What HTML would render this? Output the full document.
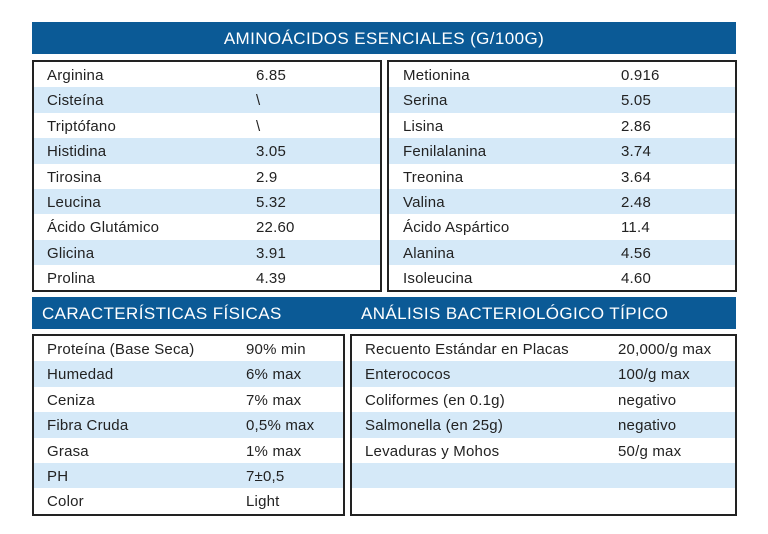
<!DOCTYPE html>
<html><head><meta charset="utf-8"><style>
*{margin:0;padding:0;box-sizing:border-box}
body{width:768px;height:534px;background:#fff;position:relative;font-family:"Liberation Sans",sans-serif;color:#222;overflow:hidden}
.bar{position:absolute;background:#0b5a96;color:#fff;font-size:17px;letter-spacing:0.4px}
.box{position:absolute;border:2px solid #222}
.row{height:25.4px;position:relative;font-size:15px;line-height:27px;letter-spacing:0.2px}
.row:nth-child(even){background:#d5e9f8}
.row span{position:absolute}
</style></head><body>
<div class="bar" style="left:32px;top:22px;width:704px;height:32px;line-height:34px;text-align:center">AMINOÁCIDOS ESENCIALES (G/100G)</div>

<div class="box" style="left:32px;top:60px;width:350px;height:232px">
<div class="row"><span style="left:13px">Arginina</span><span style="left:222px">6.85</span></div>
<div class="row"><span style="left:13px">Cisteína</span><span style="left:222px">\</span></div>
<div class="row"><span style="left:13px">Triptófano</span><span style="left:222px">\</span></div>
<div class="row"><span style="left:13px">Histidina</span><span style="left:222px">3.05</span></div>
<div class="row"><span style="left:13px">Tirosina</span><span style="left:222px">2.9</span></div>
<div class="row"><span style="left:13px">Leucina</span><span style="left:222px">5.32</span></div>
<div class="row"><span style="left:13px">Ácido Glutámico</span><span style="left:222px">22.60</span></div>
<div class="row"><span style="left:13px">Glicina</span><span style="left:222px">3.91</span></div>
<div class="row"><span style="left:13px">Prolina</span><span style="left:222px">4.39</span></div>
</div>

<div class="box" style="left:387px;top:60px;width:350px;height:232px">
<div class="row"><span style="left:14px">Metionina</span><span style="left:232px">0.916</span></div>
<div class="row"><span style="left:14px">Serina</span><span style="left:232px">5.05</span></div>
<div class="row"><span style="left:14px">Lisina</span><span style="left:232px">2.86</span></div>
<div class="row"><span style="left:14px">Fenilalanina</span><span style="left:232px">3.74</span></div>
<div class="row"><span style="left:14px">Treonina</span><span style="left:232px">3.64</span></div>
<div class="row"><span style="left:14px">Valina</span><span style="left:232px">2.48</span></div>
<div class="row"><span style="left:14px">Ácido Aspártico</span><span style="left:232px">11.4</span></div>
<div class="row"><span style="left:14px">Alanina</span><span style="left:232px">4.56</span></div>
<div class="row"><span style="left:14px">Isoleucina</span><span style="left:232px">4.60</span></div>
</div>

<div class="bar" style="left:32px;top:297px;width:704px;height:32px;line-height:34px">
<span style="position:absolute;left:10px">CARACTERÍSTICAS FÍSICAS</span>
<span style="position:absolute;left:329px">ANÁLISIS BACTERIOLÓGICO TÍPICO</span></div>

<div class="box" style="left:32px;top:334px;width:313px;height:182px">
<div class="row"><span style="left:13px">Proteína (Base Seca)</span><span style="left:212px">90% min</span></div>
<div class="row"><span style="left:13px">Humedad</span><span style="left:212px">6% max</span></div>
<div class="row"><span style="left:13px">Ceniza</span><span style="left:212px">7% max</span></div>
<div class="row"><span style="left:13px">Fibra Cruda</span><span style="left:212px">0,5% max</span></div>
<div class="row"><span style="left:13px">Grasa</span><span style="left:212px">1% max</span></div>
<div class="row"><span style="left:13px">PH</span><span style="left:212px">7±0,5</span></div>
<div class="row"><span style="left:13px">Color</span><span style="left:212px">Light</span></div>
</div>

<div class="box" style="left:350px;top:334px;width:387px;height:182px">
<div class="row"><span style="left:13px">Recuento Estándar en Placas</span><span style="left:266px">20,000/g max</span></div>
<div class="row"><span style="left:13px">Enterococos</span><span style="left:266px">100/g max</span></div>
<div class="row"><span style="left:13px">Coliformes (en 0.1g)</span><span style="left:266px">negativo</span></div>
<div class="row"><span style="left:13px">Salmonella (en 25g)</span><span style="left:266px">negativo</span></div>
<div class="row"><span style="left:13px">Levaduras y Mohos</span><span style="left:266px">50/g max</span></div>
<div class="row"></div>
<div class="row"></div>
</div>
</body></html>
